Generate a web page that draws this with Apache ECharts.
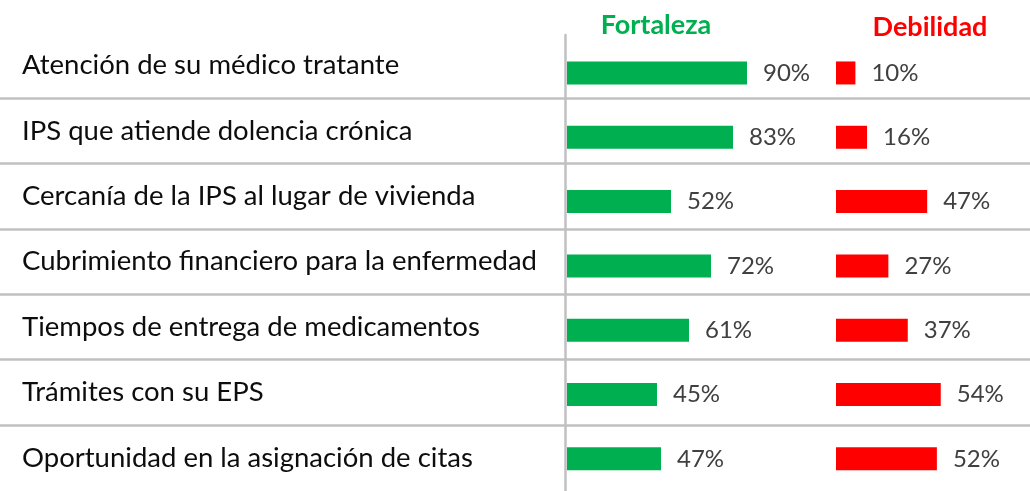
<!DOCTYPE html>
<html>
<head>
<meta charset="utf-8">
<script src="https://cdn.jsdelivr.net/npm/echarts@6/dist/echarts.min.js"></script>
<style>
  html, body { margin: 0; padding: 0; background: #fff; }
  #chart { width: 1030px; height: 491px; }
</style>
</head>
<body>
<div id="chart"></div>
<script>
// categorías (de arriba hacia abajo)
const categories = [
  'Atención de su médico tratante',
  'IPS que atiende dolencia crónica',
  'Cercanía de la IPS al lugar de vivienda',
  'Cubrimiento financiero para la enfermedad',
  'Tiempos de entrega de medicamentos',
  'Trámites con su EPS',
  'Oportunidad en la asignación de citas'
];
const fortaleza = [90, 83, 52, 72, 61, 45, 47];
const debilidad = [10, 16, 47, 27, 37, 54, 52];
const headers = ['Fortaleza', 'Debilidad'];

const FONT = 'Lato';
const GRID_LINE = '#c0c0c0';
const ROW_TOP = 32.6, ROW_H = 65.4;   // filas con separadores
const BAR_TOP = 40.8, BAR_H = 65.2;   // filas de las barras

const chart = echarts.init(document.getElementById('chart'));

const barLabel = {
  show: true,
  position: 'right',
  distance: 16,
  formatter: '{c}%',
  color: '#404040',
  fontFamily: FONT,
  fontSize: 24
};

const hiddenCat = (gridIndex) => ({
  type: 'category',
  gridIndex: gridIndex,
  data: categories,
  inverse: true,
  axisLine: { show: false },
  axisTick: { show: false },
  axisLabel: { show: false },
  splitLine: { show: false }
});

chart.setOption({
  animation: false,
  grid: [
    // 0: etiquetas y líneas separadoras
    { left: 0, width: 1030, top: ROW_TOP, height: ROW_H * 7 },
    // 1: barras de fortaleza
    { left: 567, width: 200, top: BAR_TOP, height: BAR_H * 7 },
    // 2: barras de debilidad
    { left: 836, width: 200, top: BAR_TOP, height: BAR_H * 7 },
    // 3: línea vertical
    { left: 565, width: 100, top: 35, bottom: 0 }
  ],
  xAxis: [
    { type: 'value', gridIndex: 0, show: false },
    { type: 'value', gridIndex: 1, min: 0, max: 100, show: false },
    { type: 'value', gridIndex: 2, min: 0, max: 100, show: false },
    { type: 'value', gridIndex: 3, show: false }
  ],
  yAxis: [
    {
      type: 'category',
      gridIndex: 0,
      data: categories,
      inverse: true,
      axisLine: { show: false },
      axisTick: { show: false },
      axisLabel: {
        inside: true,
        margin: 22,
        color: '#0d0d0d',
        fontFamily: FONT,
        fontSize: 27.5
      },
      splitLine: {
        show: true,
        showMinLine: false,
        showMaxLine: false,
        lineStyle: { color: GRID_LINE, width: 2.5 }
      }
    },
    hiddenCat(1),
    hiddenCat(2),
    {
      type: 'category',
      gridIndex: 3,
      data: categories,
      axisLine: { show: true, lineStyle: { color: GRID_LINE, width: 2.5 } },
      axisTick: { show: false },
      axisLabel: { show: false },
      splitLine: { show: false }
    }
  ],
  graphic: [
    {
      type: 'text', x: 656, y: 25,
      style: {
        text: headers[0], fill: '#00b050', textAlign: 'center', textVerticalAlign: 'middle',
        fontFamily: FONT, fontWeight: 'bold', fontSize: 27
      }
    },
    {
      type: 'text', x: 930, y: 27,
      style: {
        text: headers[1], fill: '#ff0000', textAlign: 'center', textVerticalAlign: 'middle',
        fontFamily: FONT, fontWeight: 'bold', fontSize: 27
      }
    }
  ],
  series: [
    {
      name: headers[0],
      type: 'bar',
      xAxisIndex: 1,
      yAxisIndex: 1,
      data: fortaleza,
      barWidth: 23,
      itemStyle: { color: '#00b050' },
      label: barLabel
    },
    {
      name: headers[1],
      type: 'bar',
      xAxisIndex: 2,
      yAxisIndex: 2,
      data: debilidad,
      barWidth: 23,
      itemStyle: { color: '#ff0000' },
      label: barLabel
    }
  ]
});
</script>
</body>
</html>
